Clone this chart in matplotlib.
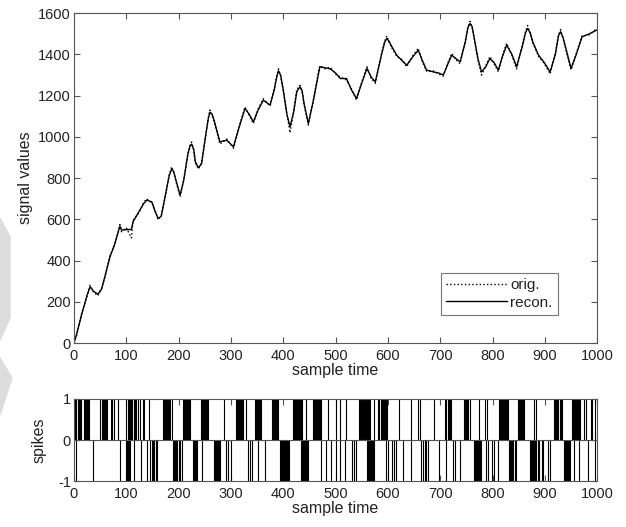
import matplotlib
matplotlib.use('Agg')
import matplotlib.pyplot as plt
from matplotlib.patches import Polygon
import numpy as np

plt.rcParams['font.family'] = ['Liberation Sans', 'DejaVu Sans']
plt.rcParams['axes.unicode_minus'] = False
plt.rcParams['text.color'] = '#222222'
plt.rcParams['axes.labelcolor'] = '#222222'

# signal (sample time, value)
t = [0, 5, 15, 25, 31, 38, 46, 53, 60, 69, 78, 88, 91, 100, 110, 113, 125, 133, 139, 149, 155,
     161, 167, 175, 182, 187, 191, 195, 203, 210, 218, 222, 225, 229, 232, 238, 244, 252, 257, 260, 264, 268, 279, 292, 305, 315, 327,
     335, 343, 352, 362, 375, 383, 388, 391, 395, 400, 407, 413, 420, 426, 432, 436, 440, 448, 458, 467, 470, 480, 490,
     500, 509, 521, 530, 540, 550, 560, 568, 576, 588, 594, 598, 602, 607, 617, 627, 636, 648, 658, 666, 674, 687,
     697, 706, 714, 722, 730, 738, 748, 753, 757, 761, 765, 772, 779, 787, 795, 803, 811, 819, 827, 837, 846, 857,
     863, 867, 872, 877, 888, 899, 910, 920, 926, 930, 935, 940, 950, 960, 971, 985, 999]
recon = [0, 40, 140, 230, 273, 250, 237, 262, 330, 418, 480, 567, 548, 550, 551, 588, 640, 675, 693, 685, 640,
         604, 615, 720, 810, 845, 830, 790, 718, 790, 920, 955, 965, 940, 880, 850, 870, 1010, 1090, 1120, 1110, 1080, 976, 984, 952, 1040, 1138,
         1110, 1073, 1130, 1178, 1154, 1230, 1295, 1320, 1300, 1230, 1110, 1049, 1120, 1220, 1243, 1225, 1160, 1065, 1180, 1300, 1340, 1335, 1330,
         1310, 1283, 1283, 1230, 1186, 1260, 1332, 1290, 1267, 1400, 1460, 1477, 1465, 1440, 1396, 1370, 1348, 1390, 1420, 1370, 1324, 1315,
         1310, 1300, 1350, 1396, 1380, 1364, 1460, 1530, 1550, 1535, 1480, 1380, 1315, 1340, 1380, 1360, 1324, 1390, 1445, 1400, 1340, 1440,
         1505, 1526, 1505, 1460, 1396, 1360, 1315, 1400, 1490, 1510, 1480, 1430, 1332, 1400, 1485, 1500, 1518]
orig = [0, 35, 145, 225, 280, 245, 230, 265, 325, 425, 475, 575, 540, 560, 510, 595, 635, 680, 700, 680, 645,
        598, 620, 715, 815, 855, 825, 785, 710, 795, 915, 960, 975, 935, 875, 845, 875, 1005, 1095, 1130, 1105, 1075, 965, 990, 945, 1045, 1145,
        1105, 1065, 1135, 1185, 1150, 1235, 1300, 1330, 1295, 1225, 1115, 1020, 1125, 1230, 1250, 1220, 1155, 1058, 1185, 1310, 1345, 1330, 1338,
        1305, 1290, 1276, 1235, 1178, 1265, 1340, 1285, 1260, 1405, 1465, 1490, 1460, 1435, 1390, 1375, 1340, 1395, 1430, 1365, 1318, 1320,
        1305, 1295, 1355, 1405, 1375, 1355, 1465, 1535, 1560, 1530, 1475, 1375, 1300, 1345, 1390, 1355, 1316, 1395, 1455, 1395, 1330, 1445,
        1510, 1540, 1500, 1455, 1390, 1355, 1305, 1405, 1495, 1520, 1475, 1425, 1325, 1405, 1490, 1495, 1525]

# spike times
pos_spikes = [1, 3, 5, 8, 10, 12, 14, 19, 21, 23, 25, 27, 29, 50, 53, 56, 58, 60, 62, 64,
              70, 72, 77, 85, 99, 104, 106, 108, 110, 112, 114, 116, 118, 123, 126, 132, 134, 144,
              170, 172, 174, 176, 178, 180, 182, 184, 188, 208, 210, 212, 214, 216, 218, 220, 222,
              242, 244, 246, 248, 250, 252, 254, 256, 287, 310, 312, 314, 316, 318, 320, 322, 324, 329,
              346, 348, 350, 352, 354, 356, 358, 378, 380, 382, 384, 386, 388, 390,
              418, 420, 422, 424, 426, 428, 430, 432, 434, 436, 443, 456, 458, 460, 462, 464, 466, 468, 470, 472,
              485, 501, 509, 520, 544, 546, 548, 550, 552, 554, 556, 558, 560, 562, 564, 566, 574,
              582, 584, 586, 588, 590, 592, 594, 596, 598, 622, 644, 657, 661, 689,
              710, 712, 714, 716, 718, 720, 746, 748, 750, 752, 754, 756, 775, 786, 789,
              812, 814, 816, 818, 820, 822, 824, 826, 828, 830, 848, 850, 852, 854, 856, 858, 860, 880, 883,
              918, 920, 922, 924, 926, 928, 930, 932, 952, 954, 956, 958, 960, 962, 964, 966, 968,
              975, 979, 988, 991, 995]
neg_spikes = [4, 36, 89, 99, 101, 103, 105, 107, 115, 128, 139, 145, 150, 152, 154, 156, 158,
              190, 192, 194, 196, 198, 200, 202, 206, 228, 230, 232, 234, 236, 244,
              267, 269, 271, 273, 275, 277, 279, 290, 294, 301, 333, 336, 341, 351, 365,
              394, 396, 398, 400, 402, 404, 406, 408, 410, 412, 434, 436, 438, 440, 442, 444, 446, 448,
              472, 481, 491, 500, 509, 519, 531, 535, 539, 560, 562, 564, 566, 568, 570, 572, 574,
              596, 600, 608, 612, 616, 628, 645, 664, 667, 670, 673, 676, 698, 711, 725, 728, 737,
              764, 766, 768, 770, 772, 774, 776, 778, 787, 791, 799, 803, 810,
              832, 834, 836, 838, 840, 842, 844, 872, 874, 876, 878, 880, 882, 884, 886, 888,
              894, 897, 906, 909, 936, 938, 940, 942, 944, 946, 948, 956, 966, 982, 995]

fig = plt.figure(figsize=(6.26, 5.27), dpi=100)

# faint grey shapes on the left edge of the picture
W, H = 626, 527
for pts in [[(0, 218), (10, 237), (10, 318), (0, 340)], [(0, 358), (12, 378), (0, 415)]]:
    fig.patches.append(Polygon([(x / W, 1 - y / H) for x, y in pts], closed=True,
                               transform=fig.transFigure, color='#dcdcdc', zorder=0))

edge = '#555555'

def style(ax):
    for s in ax.spines.values():
        s.set_color(edge)
        s.set_linewidth(0.8)
    ax.tick_params(direction='in', top=True, right=True, length=4, width=0.8,
                   color=edge, labelcolor='#222222', labelsize=10.5, pad=2)
    ax.tick_params(axis='x', pad=4)

ax1 = fig.add_axes([0.118, 0.349, 0.836, 0.626])
ax1.plot(t, orig, color='black', linestyle=':', linewidth=1.0, label='orig.')
ax1.plot(t, recon, color='black', linestyle='-', linewidth=1.0, label='recon.')
ax1.set_xlim(0, 1000)
ax1.set_ylim(0, 1600)
ax1.set_xticks(np.arange(0, 1001, 100))
ax1.set_yticks(np.arange(0, 1601, 200))
ax1.set_xlabel('sample time', fontsize=11.5, labelpad=0)
ax1.set_ylabel('signal values', fontsize=11.5, labelpad=4)
style(ax1)
leg = ax1.legend(loc='lower right', bbox_to_anchor=(0.925, 0.085), borderaxespad=0,
                 fancybox=False, edgecolor=edge, fontsize=11, handlelength=4,
                 handletextpad=0.2, borderpad=0.35, labelspacing=0.25)
leg.get_frame().set_linewidth(0.8)

ax2 = fig.add_axes([0.118, 0.087, 0.836, 0.156])
ax2.vlines(pos_spikes, 0, 1, color='black', linewidth=0.8)
ax2.vlines(neg_spikes, -1, 0, color='black', linewidth=0.8)
ax2.axhline(0, color=edge, linewidth=0.8)
ax2.set_xlim(0, 1000)
ax2.set_ylim(-1, 1)
ax2.set_xticks(np.arange(0, 1001, 100))
ax2.set_yticks([-1, 0, 1])
ax2.set_xlabel('sample time', fontsize=11.5, labelpad=0)
ax2.set_ylabel('spikes', fontsize=11.5, labelpad=8)
style(ax2)

fig.savefig('out.png', dpi=100)
